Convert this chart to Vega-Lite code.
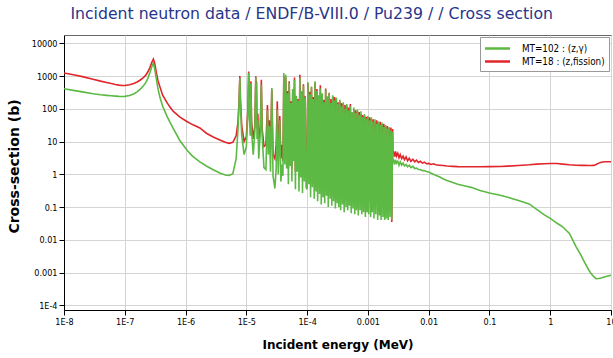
{
"$schema":"https://vega.github.io/schema/vega-lite/v6.json",
"width":547,"height":275,
"autosize":{"type":"none"},
"padding":{"left":64,"top":35,"right":2,"bottom":48},
"background":"white",
"title":{"text":"Incident neutron data / ENDF/B-VIII.0 / Pu239 / / Cross section","font":"DejaVu Sans","fontSize":15.7,"fontWeight":"normal","color":"#28358a","anchor":"middle","frame":"bounds","offset":12},
"datasets":{
"fission":[
{"E":1e-8,"s":1240},{"E":1.5e-8,"s":1080},{"E":2e-8,"s":960},{"E":3e-8,"s":800},{"E":4e-8,"s":700},{"E":5e-8,"s":640},{"E":6e-8,"s":590},{"E":7e-8,"s":555},{"E":8e-8,"s":530},{"E":9e-8,"s":515},{"E":1e-7,"s":515},{"E":1.2e-7,"s":540},{"E":1.4e-7,"s":590},{"E":1.6e-7,"s":660},{"E":1.8e-7,"s":760},{"E":2e-7,"s":880},{"E":2.2e-7,"s":1050},{"E":2.4e-7,"s":1350},{"E":2.6e-7,"s":1850},{"E":2.8e-7,"s":2700},{"E":2.95e-7,"s":3300},{"E":3.1e-7,"s":2500},{"E":3.3e-7,"s":1300},{"E":3.5e-7,"s":750},{"E":3.8e-7,"s":460},{"E":4.2e-7,"s":260},{"E":4.9e-7,"s":160},{"E":5.5e-7,"s":115},{"E":6.3e-7,"s":83},{"E":8e-7,"s":57},{"E":1.05e-6,"s":41},{"E":1.3e-6,"s":33},{"E":1.72e-6,"s":26},{"E":2.2e-6,"s":18},{"E":2.8e-6,"s":14},{"E":3.66e-6,"s":11.2},{"E":4.5e-6,"s":9.5},{"E":5.2e-6,"s":8.8},{"E":6e-6,"s":9.5},{"E":6.8e-6,"s":15},{"E":7.3e-6,"s":40},{"E":7.6e-6,"s":180},{"E":7.82e-6,"s":1000},{"E":8.0e-6,"s":200},{"E":8.4e-6,"s":30},{"E":9.2e-6,"s":10},{"E":1.0e-5,"s":14},{"E":1.06e-5,"s":90},{"E":1.093e-5,"s":1380},{"E":1.12e-5,"s":120},{"E":1.16e-5,"s":35},{"E":1.189e-5,"s":690},{"E":1.22e-5,"s":40},{"E":1.3e-5,"s":12},{"E":1.38e-5,"s":30},{"E":1.431e-5,"s":980},{"E":1.45e-5,"s":200},{"E":1.468e-5,"s":700},{"E":1.5e-5,"s":25},{"E":1.546e-5,"s":70},{"E":1.6e-5,"s":10},{"E":1.7e-5,"s":30},{"E":1.766e-5,"s":770},{"E":1.82e-5,"s":25},{"E":1.95e-5,"s":7},{"E":2.1e-5,"s":8},{"E":2.226e-5,"s":130},{"E":2.3e-5,"s":10},{"E":2.393e-5,"s":45},{"E":2.5e-5,"s":6},{"E":2.623e-5,"s":380},{"E":2.75e-5,"s":4},{"E":2.95e-5,"s":3},{"E":3.1e-5,"s":8},{"E":3.23e-5,"s":170},{"E":3.35e-5,"s":5},{"E":3.55e-5,"s":60},{"E":3.7e-5,"s":3},{"E":3.85e-5,"s":8},
{"E":4.00e-5,"s":2.5},{"E":4.14e-5,"s":1000},{"E":4.30e-5,"s":4},{"E":4.45e-5,"s":900},{"E":4.60e-5,"s":3},{"E":4.76e-5,"s":350},{"E":4.92e-5,"s":1.5},{"E":5.08e-5,"s":700},{"E":5.26e-5,"s":3.5},{"E":5.44e-5,"s":170},{"E":5.62e-5,"s":1.5},{"E":5.80e-5,"s":380},{"E":6.00e-5,"s":4},{"E":6.20e-5,"s":900},{"E":6.42e-5,"s":1.2},{"E":6.64e-5,"s":230},{"E":6.86e-5,"s":2.5},{"E":7.10e-5,"s":200},{"E":7.35e-5,"s":1.0},{"E":7.60e-5,"s":1100},{"E":7.86e-5,"s":2},{"E":8.13e-5,"s":330},{"E":8.40e-5,"s":0.9},{"E":8.70e-5,"s":560},{"E":9.00e-5,"s":1.5},{"E":9.30e-5,"s":240},{"E":9.62e-5,"s":1.2},
{"E":1.00e-4,"s":0.9},{"E":1.03e-4,"s":600},{"E":1.07e-4,"s":1.2},{"E":1.11e-4,"s":330},{"E":1.14e-4,"s":0.6},{"E":1.18e-4,"s":450},{"E":1.22e-4,"s":1.0},{"E":1.26e-4,"s":230},{"E":1.31e-4,"s":0.5},{"E":1.35e-4,"s":620},{"E":1.40e-4,"s":0.8},{"E":1.45e-4,"s":400},{"E":1.49e-4,"s":0.4},{"E":1.55e-4,"s":240},{"E":1.60e-4,"s":0.7},{"E":1.65e-4,"s":520},{"E":1.71e-4,"s":0.35},{"E":1.77e-4,"s":280},{"E":1.83e-4,"s":0.5},{"E":1.89e-4,"s":190},{"E":1.95e-4,"s":0.3},{"E":2.02e-4,"s":420},{"E":2.09e-4,"s":0.6},{"E":2.16e-4,"s":220},{"E":2.23e-4,"s":0.3},{"E":2.31e-4,"s":310},{"E":2.39e-4,"s":0.45},{"E":2.47e-4,"s":200},{"E":2.55e-4,"s":0.3},{"E":2.64e-4,"s":240},{"E":2.73e-4,"s":0.4},{"E":2.82e-4,"s":230},{"E":2.92e-4,"s":0.25},{"E":3.02e-4,"s":210},{"E":3.12e-4,"s":0.35},{"E":3.22e-4,"s":160},{"E":3.33e-4,"s":0.25},{"E":3.45e-4,"s":170},{"E":3.56e-4,"s":0.22},{"E":3.68e-4,"s":150},{"E":3.81e-4,"s":0.3},{"E":3.94e-4,"s":140},{"E":4.07e-4,"s":0.2},{"E":4.21e-4,"s":130},{"E":4.36e-4,"s":0.28},{"E":4.50e-4,"s":120},{"E":4.66e-4,"s":0.2},{"E":4.81e-4,"s":110},{"E":4.98e-4,"s":0.3},{"E":5.15e-4,"s":140},{"E":5.32e-4,"s":0.18},{"E":5.50e-4,"s":75},{"E":5.69e-4,"s":0.22},{"E":5.88e-4,"s":95},{"E":6.08e-4,"s":0.16},{"E":6.29e-4,"s":90},{"E":6.50e-4,"s":0.2},{"E":6.73e-4,"s":85},{"E":6.95e-4,"s":0.15},{"E":7.19e-4,"s":80},{"E":7.44e-4,"s":0.2},{"E":7.69e-4,"s":70},{"E":7.95e-4,"s":0.15},{"E":8.22e-4,"s":65},{"E":8.50e-4,"s":0.18},{"E":8.79e-4,"s":60},{"E":9.09e-4,"s":0.13},{"E":9.40e-4,"s":57},{"E":9.71e-4,"s":0.16},
{"E":1.00e-3,"s":55},{"E":1.03e-3,"s":0.15},{"E":1.07e-3,"s":55},{"E":1.11e-3,"s":0.12},{"E":1.14e-3,"s":50},{"E":1.18e-3,"s":0.16},{"E":1.22e-3,"s":48},{"E":1.26e-3,"s":0.11},{"E":1.31e-3,"s":42},{"E":1.35e-3,"s":0.14},{"E":1.40e-3,"s":45},{"E":1.45e-3,"s":0.1},{"E":1.49e-3,"s":38},{"E":1.55e-3,"s":0.13},{"E":1.60e-3,"s":40},{"E":1.65e-3,"s":0.1},{"E":1.71e-3,"s":34},{"E":1.77e-3,"s":0.12},{"E":1.83e-3,"s":35},{"E":1.89e-3,"s":0.09},{"E":1.95e-3,"s":30},{"E":2.02e-3,"s":0.1},{"E":2.09e-3,"s":30},{"E":2.16e-3,"s":0.09},{"E":2.23e-3,"s":26},{"E":2.31e-3,"s":0.11},{"E":2.39e-3,"s":27},{"E":2.47e-3,"s":0.035},{"E":2.55e-3,"s":24},
{"E":2.58e-3,"s":5},{"E":2.65e-3,"s":4.8},{"E":2.75e-3,"s":3.5},{"E":2.85e-3,"s":5.0},{"E":2.95e-3,"s":3.6},{"E":3.1e-3,"s":4.4},{"E":3.25e-3,"s":3.2},{"E":3.4e-3,"s":4.0},{"E":3.6e-3,"s":3.0},{"E":3.8e-3,"s":3.6},{"E":4.0e-3,"s":2.8},{"E":4.25e-3,"s":3.4},{"E":4.5e-3,"s":2.6},{"E":4.8e-3,"s":3.1},{"E":5.1e-3,"s":2.5},{"E":5.5e-3,"s":2.9},{"E":5.9e-3,"s":2.4},{"E":6.3e-3,"s":2.7},{"E":6.8e-3,"s":2.3},{"E":7.3e-3,"s":2.5},{"E":7.9e-3,"s":2.2},{"E":8.5e-3,"s":2.35},{"E":9.2e-3,"s":2.1},{"E":1.0e-2,"s":2.15},{"E":1.1e-2,"s":2.0},{"E":1.2e-2,"s":2.1},{"E":1.3e-2,"s":1.95},{"E":1.5e-2,"s":1.9},{"E":1.75e-2,"s":1.85},{"E":2.0e-2,"s":1.8},{"E":2.5e-2,"s":1.75},{"E":3.0e-2,"s":1.72},{"E":4.0e-2,"s":1.7},{"E":5.0e-2,"s":1.7},{"E":7.0e-2,"s":1.7},{"E":0.1,"s":1.72},{"E":0.15,"s":1.74},{"E":0.2,"s":1.78},{"E":0.3,"s":1.85},{"E":0.45,"s":1.95},{"E":0.6,"s":2.05},{"E":0.8,"s":2.1},{"E":1.0,"s":2.15},{"E":1.3,"s":2.15},{"E":1.6,"s":2.05},{"E":2.07,"s":1.95},{"E":2.67,"s":1.9},{"E":3.2,"s":1.88},{"E":3.66,"s":1.87},{"E":4.3,"s":1.86},{"E":4.71,"s":1.85},{"E":5.2,"s":1.87},{"E":5.7,"s":2.0},{"E":6.3,"s":2.2},{"E":6.9,"s":2.35},{"E":8,"s":2.42},{"E":10,"s":2.42}
],
"capture":[
{"E":1e-8,"s":410},{"E":1.5e-8,"s":360},{"E":2e-8,"s":330},{"E":3e-8,"s":290},{"E":4e-8,"s":270},{"E":5e-8,"s":258},{"E":6e-8,"s":250},{"E":7e-8,"s":244},{"E":8e-8,"s":240},{"E":9e-8,"s":238},{"E":1e-7,"s":240},{"E":1.2e-7,"s":255},{"E":1.4e-7,"s":285},{"E":1.6e-7,"s":330},{"E":1.8e-7,"s":400},{"E":2e-7,"s":490},{"E":2.2e-7,"s":620},{"E":2.4e-7,"s":850},{"E":2.6e-7,"s":1300},{"E":2.8e-7,"s":2000},{"E":2.95e-7,"s":2500},{"E":3.1e-7,"s":1700},{"E":3.3e-7,"s":850},{"E":3.5e-7,"s":430},{"E":3.8e-7,"s":220},{"E":4.2e-7,"s":120},{"E":4.9e-7,"s":62},{"E":5.5e-7,"s":40},{"E":6.3e-7,"s":25},{"E":8e-7,"s":11},{"E":1.05e-6,"s":5.5},{"E":1.3e-6,"s":3.6},{"E":1.72e-6,"s":2.4},{"E":2.2e-6,"s":1.8},{"E":2.8e-6,"s":1.4},{"E":3.66e-6,"s":1.1},{"E":4.5e-6,"s":0.95},{"E":5.2e-6,"s":0.92},{"E":6e-6,"s":1.05},{"E":6.8e-6,"s":3},{"E":7.3e-6,"s":25},{"E":7.6e-6,"s":150},{"E":7.82e-6,"s":870},{"E":8.0e-6,"s":150},{"E":8.4e-6,"s":15},{"E":9.2e-6,"s":4},{"E":1.0e-5,"s":7},{"E":1.06e-5,"s":70},{"E":1.093e-5,"s":1230},{"E":1.12e-5,"s":80},{"E":1.16e-5,"s":15},{"E":1.189e-5,"s":600},{"E":1.22e-5,"s":20},{"E":1.3e-5,"s":4},{"E":1.38e-5,"s":20},{"E":1.431e-5,"s":900},{"E":1.45e-5,"s":150},{"E":1.468e-5,"s":600},{"E":1.5e-5,"s":12},{"E":1.546e-5,"s":45},{"E":1.6e-5,"s":3},{"E":1.7e-5,"s":20},{"E":1.766e-5,"s":545},{"E":1.82e-5,"s":15},{"E":1.95e-5,"s":1.6},{"E":2.1e-5,"s":1.4},{"E":2.226e-5,"s":90},{"E":2.3e-5,"s":4},{"E":2.393e-5,"s":30},{"E":2.5e-5,"s":1.2},{"E":2.623e-5,"s":430},{"E":2.75e-5,"s":0.9},{"E":2.95e-5,"s":0.37},{"E":3.1e-5,"s":1.5},{"E":3.23e-5,"s":93},{"E":3.35e-5,"s":1.0},{"E":3.55e-5,"s":45},{"E":3.7e-5,"s":0.6},{"E":3.85e-5,"s":2},
{"E":4.00e-5,"s":0.9},{"E":4.14e-5,"s":1230},{"E":4.30e-5,"s":2.0},{"E":4.45e-5,"s":1100},{"E":4.60e-5,"s":1.5},{"E":4.76e-5,"s":300},{"E":4.92e-5,"s":0.5},{"E":5.08e-5,"s":620},{"E":5.26e-5,"s":1.8},{"E":5.44e-5,"s":150},{"E":5.62e-5,"s":0.6},{"E":5.80e-5,"s":400},{"E":6.00e-5,"s":2.5},{"E":6.20e-5,"s":770},{"E":6.42e-5,"s":0.35},{"E":6.64e-5,"s":250},{"E":6.86e-5,"s":1.2},{"E":7.10e-5,"s":180},{"E":7.35e-5,"s":0.3},{"E":7.60e-5,"s":870},{"E":7.86e-5,"s":0.8},{"E":8.13e-5,"s":350},{"E":8.40e-5,"s":0.27},{"E":8.70e-5,"s":500},{"E":9.00e-5,"s":0.6},{"E":9.30e-5,"s":220},{"E":9.62e-5,"s":0.4},
{"E":1.00e-4,"s":0.35},{"E":1.03e-4,"s":650},{"E":1.07e-4,"s":0.5},{"E":1.11e-4,"s":280},{"E":1.14e-4,"s":0.2},{"E":1.18e-4,"s":480},{"E":1.22e-4,"s":0.4},{"E":1.26e-4,"s":200},{"E":1.31e-4,"s":0.18},{"E":1.35e-4,"s":700},{"E":1.40e-4,"s":0.3},{"E":1.45e-4,"s":350},{"E":1.49e-4,"s":0.15},{"E":1.55e-4,"s":260},{"E":1.60e-4,"s":0.25},{"E":1.65e-4,"s":420},{"E":1.71e-4,"s":0.12},{"E":1.77e-4,"s":300},{"E":1.83e-4,"s":0.2},{"E":1.89e-4,"s":160},{"E":1.95e-4,"s":0.13},{"E":2.02e-4,"s":380},{"E":2.09e-4,"s":0.22},{"E":2.16e-4,"s":240},{"E":2.23e-4,"s":0.1},{"E":2.31e-4,"s":300},{"E":2.39e-4,"s":0.18},{"E":2.47e-4,"s":150},{"E":2.55e-4,"s":0.11},{"E":2.64e-4,"s":260},{"E":2.73e-4,"s":0.15},{"E":2.82e-4,"s":180},{"E":2.92e-4,"s":0.09},{"E":3.02e-4,"s":220},{"E":3.12e-4,"s":0.13},{"E":3.22e-4,"s":140},{"E":3.33e-4,"s":0.1},{"E":3.45e-4,"s":190},{"E":3.56e-4,"s":0.08},{"E":3.68e-4,"s":120},{"E":3.81e-4,"s":0.12},{"E":3.94e-4,"s":160},{"E":4.07e-4,"s":0.07},{"E":4.21e-4,"s":100},{"E":4.36e-4,"s":0.1},{"E":4.50e-4,"s":140},{"E":4.66e-4,"s":0.08},{"E":4.81e-4,"s":90},{"E":4.98e-4,"s":0.11},{"E":5.15e-4,"s":120},{"E":5.32e-4,"s":0.065},{"E":5.50e-4,"s":80},{"E":5.69e-4,"s":0.09},{"E":5.88e-4,"s":110},{"E":6.08e-4,"s":0.06},{"E":6.29e-4,"s":75},{"E":6.50e-4,"s":0.08},{"E":6.73e-4,"s":95},{"E":6.95e-4,"s":0.055},{"E":7.19e-4,"s":65},{"E":7.44e-4,"s":0.08},{"E":7.69e-4,"s":85},{"E":7.95e-4,"s":0.06},{"E":8.22e-4,"s":55},{"E":8.50e-4,"s":0.07},{"E":8.79e-4,"s":70},{"E":9.09e-4,"s":0.05},{"E":9.40e-4,"s":50},{"E":9.71e-4,"s":0.07},
{"E":1.00e-3,"s":60},{"E":1.03e-3,"s":0.06},{"E":1.07e-3,"s":45},{"E":1.11e-3,"s":0.05},{"E":1.14e-3,"s":55},{"E":1.18e-3,"s":0.07},{"E":1.22e-3,"s":40},{"E":1.26e-3,"s":0.045},{"E":1.31e-3,"s":48},{"E":1.35e-3,"s":0.06},{"E":1.40e-3,"s":35},{"E":1.45e-3,"s":0.04},{"E":1.49e-3,"s":42},{"E":1.55e-3,"s":0.055},{"E":1.60e-3,"s":32},{"E":1.65e-3,"s":0.04},{"E":1.71e-3,"s":38},{"E":1.77e-3,"s":0.05},{"E":1.83e-3,"s":28},{"E":1.89e-3,"s":0.04},{"E":1.95e-3,"s":32},{"E":2.02e-3,"s":0.045},{"E":2.09e-3,"s":25},{"E":2.16e-3,"s":0.04},{"E":2.23e-3,"s":28},{"E":2.31e-3,"s":0.05},{"E":2.39e-3,"s":22},{"E":2.47e-3,"s":0.04},{"E":2.55e-3,"s":20},
{"E":2.58e-3,"s":3},{"E":2.65e-3,"s":2.6},{"E":2.75e-3,"s":2.0},{"E":2.85e-3,"s":2.8},{"E":2.95e-3,"s":2.2},{"E":3.1e-3,"s":2.5},{"E":3.25e-3,"s":1.9},{"E":3.4e-3,"s":2.4},{"E":3.6e-3,"s":1.9},{"E":3.8e-3,"s":2.2},{"E":4.0e-3,"s":1.8},{"E":4.25e-3,"s":2.0},{"E":4.5e-3,"s":1.7},{"E":4.8e-3,"s":1.9},{"E":5.1e-3,"s":1.6},{"E":5.5e-3,"s":1.75},{"E":5.9e-3,"s":1.5},{"E":6.3e-3,"s":1.55},{"E":6.8e-3,"s":1.4},{"E":7.3e-3,"s":1.4},{"E":7.9e-3,"s":1.3},{"E":8.5e-3,"s":1.3},{"E":9.2e-3,"s":1.22},{"E":1.0e-2,"s":1.18},{"E":1.1e-2,"s":1.08},{"E":1.2e-2,"s":1.0},{"E":1.3e-2,"s":0.93},{"E":1.5e-2,"s":0.84},{"E":1.75e-2,"s":0.72},{"E":2.0e-2,"s":0.65},{"E":2.5e-2,"s":0.56},{"E":3.0e-2,"s":0.5},{"E":4.0e-2,"s":0.44},{"E":5.0e-2,"s":0.4},{"E":7.0e-2,"s":0.32},{"E":0.1,"s":0.27},{"E":0.15,"s":0.23},{"E":0.2,"s":0.2},{"E":0.3,"s":0.16},{"E":0.45,"s":0.125},{"E":0.6,"s":0.085},{"E":0.8,"s":0.058},{"E":1.0,"s":0.045},{"E":1.3,"s":0.032},{"E":1.6,"s":0.025},{"E":2.07,"s":0.0156},{"E":2.67,"s":0.0061},{"E":3.2,"s":0.0034},{"E":3.66,"s":0.0021},{"E":4.3,"s":0.0012},{"E":4.71,"s":0.00093},{"E":5.2,"s":0.00075},{"E":5.7,"s":0.00065},{"E":6.3,"s":0.00066},{"E":6.9,"s":0.00068},{"E":8,"s":0.00075},{"E":10,"s":0.00083}
]
},
"encoding":{
"x":{"field":"E","type":"quantitative","scale":{"type":"log","domain":[1e-8,10],"nice":false},
"axis":{"title":"Incident energy (MeV)","titleFontSize":12,"values":[1e-8,1e-7,1e-6,1e-5,1e-4,0.001,0.01,0.1,1,10],"labelExpr":"datum.value < 0.0009 ? '1E' + round(log(datum.value)/LN10) : (datum.value >= 1 ? format(datum.value,'d') : format(datum.value,'~g'))","titlePadding":13,"labelFlush":false}},
"y":{"field":"s","type":"quantitative","scale":{"type":"log","domain":[7.2e-5,17950],"nice":false},
"axis":{"title":"Cross-section (b)","titleFontSize":14,"titleY":131,"values":[1e-4,0.001,0.01,0.1,1,10,100,1000,10000],"labelExpr":"datum.value < 0.0009 ? '1E' + round(log(datum.value)/LN10) : (datum.value >= 1 ? format(datum.value,'d') : format(datum.value,'~g'))","titlePadding":10}}
},
"layer":[
{"data":{"name":"fission"},"mark":{"type":"line","strokeWidth":1.6,"clip":true},
"encoding":{"color":{"datum":"MT=18 : (z,fission)","type":"nominal","scale":{"domain":["MT=102 : (z,γ)","MT=18 : (z,fission)"],"range":["#5cb944","#e0262b"]},"legend":{"title":null}}}},
{"data":{"name":"capture"},"mark":{"type":"line","strokeWidth":1.6,"clip":true},
"encoding":{"color":{"datum":"MT=102 : (z,γ)","type":"nominal"}}}
],
"config":{
"view":{"stroke":"#666","strokeWidth":1},
"axis":{"domainColor":"#000","tickColor":"#000","gridColor":"#d4d4d4","gridWidth":1,"labelFont":"DejaVu Sans Condensed, DejaVu Sans","labelFontSize":9,"labelColor":"#000","titleFont":"DejaVu Sans","titleFontSize":13,"titleFontWeight":"bold","titleColor":"#000","tickSize":5,"labelPadding":2},
"legend":{"orient":"top-right","offset":2,"fillColor":"white","strokeColor":"#999","padding":4,"labelFont":"DejaVu Sans Condensed, DejaVu Sans","labelFontSize":9.8,"labelColor":"#000","symbolType":"M-2,0H2","symbolStrokeWidth":2.5,"symbolSize":156,"symbolOffset":6,"labelOffset":17,"rowPadding":0,"labelLimit":200}
}
}
